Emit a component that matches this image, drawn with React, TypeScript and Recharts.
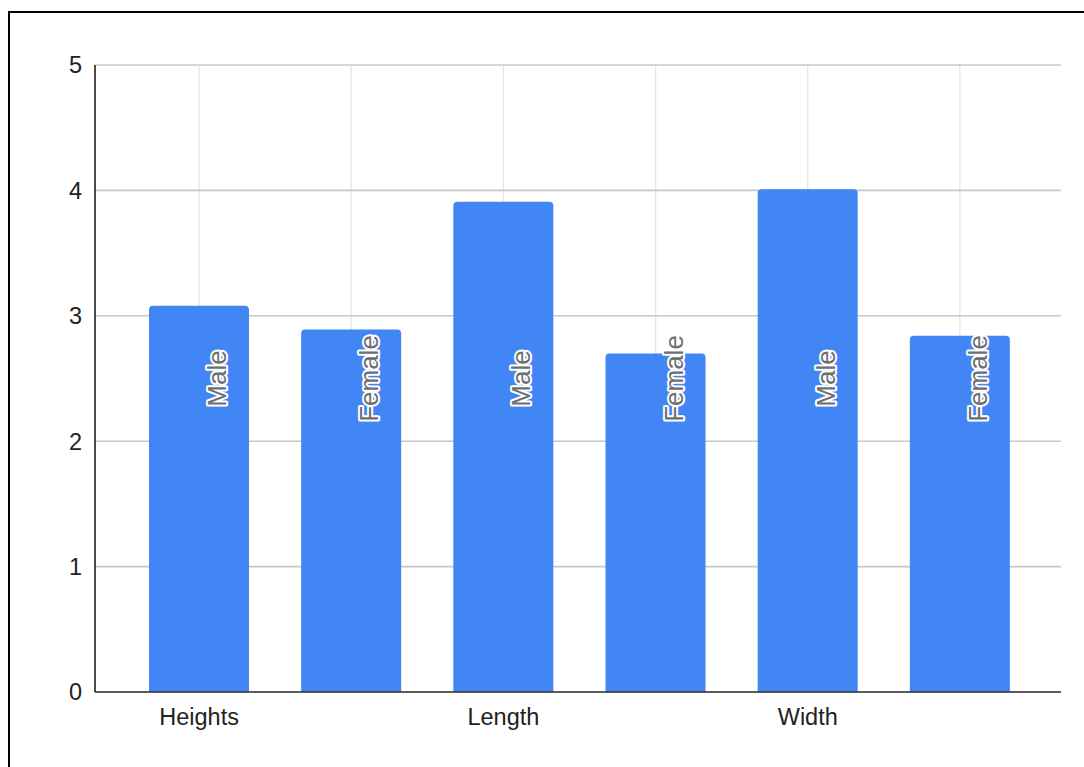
import React from "react";
import { BarChart, Bar, XAxis, YAxis, CartesianGrid, LabelList } from "recharts";

const categories = ["Heights", "Length", "Width"];
const seriesNames = ["Male", "Female"];
const maleValues = [3.08, 3.91, 4.01];
const femaleValues = [2.89, 2.7, 2.84];
const yTicks = [0, 1, 2, 3, 4, 5];
const labelLevel = 2.5;

type Row = { key: string; tick: string; label: string; value: number };

const rows: Row[] = categories.flatMap((c, i) => [
  { key: `${c}|${seriesNames[0]}`, tick: c, label: seriesNames[0], value: maleValues[i] },
  { key: `${c}|${seriesNames[1]}`, tick: "", label: seriesNames[1], value: femaleValues[i] },
]);

const FONT = "'Liberation Sans', Arial, sans-serif";

const renderLabel = (props: any) => {
  const vb = props.viewBox || props;
  const x = Number(vb.x);
  const y = Number(vb.y);
  const width = Number(vb.width);
  const height = Number(vb.height);
  const idx = props.index;
  const row = rows[idx];
  if (!row || !isFinite(x) || !isFinite(y)) return null;
  const bottom = y + height;
  const perUnit = height / row.value;
  const ly = bottom - labelLevel * perUnit;
  const lx = x + width / 2 + 27;
  return (
    <text
      transform={`translate(${lx},${ly}) rotate(-90)`}
      textAnchor="middle"
      fontFamily={FONT}
      fontSize={26}
      fill="#6e6e6e"
      stroke="#ffffff"
      strokeWidth={4}
      strokeLinejoin="round"
      paintOrder="stroke"
    >
      {row.label}
    </text>
  );
};

export default function App() {
  return (
    <div
      style={{
        position: "fixed",
        left: 8,
        top: 11,
        width: 1100,
        height: 800,
        borderTop: "2px solid #000",
        borderLeft: "2px solid #000",
        background: "#fff",
      }}
    >
      <BarChart
        width={1058}
        height={740}
        data={rows}
        margin={{ top: 52, right: 7, left: 25, bottom: 21 }}
      >
        <CartesianGrid horizontal={false} vertical syncWithTicks stroke="#e6e6e6" strokeWidth={1.3} />
        <CartesianGrid horizontal vertical={false} syncWithTicks stroke="#c8c8c8" strokeWidth={1.6} />
        <XAxis
          dataKey="key"
          height={40}
          interval={0}
          padding={{ left: 28, right: 25 }}
          tickLine={false}
          tickSize={0}
          tickMargin={16}
          tickFormatter={(v: string) => {
            const r = rows.find((d) => d.key === v);
            return r ? r.tick : "";
          }}
          tick={{ fontFamily: FONT, fontSize: 23.5, fill: "#222222" }}
          axisLine={{ stroke: "#333333", strokeWidth: 1.5 }}
        />
        <YAxis
          width={60}
          domain={[0, 5]}
          ticks={yTicks}
          interval={0}
          tickLine={false}
          tickSize={0}
          tickMargin={13}
          tick={{ fontFamily: FONT, fontSize: 23.5, fill: "#222222" }}
          axisLine={{ stroke: "#111111", strokeWidth: 1.5 }}
        />
        <Bar
          dataKey="value"
          fill="#4285F4"
          barSize={100}
          radius={[4, 4, 0, 0]}
          isAnimationActive={false}
        >
          <LabelList dataKey="label" content={renderLabel} />
        </Bar>
      </BarChart>
    </div>
  );
}
